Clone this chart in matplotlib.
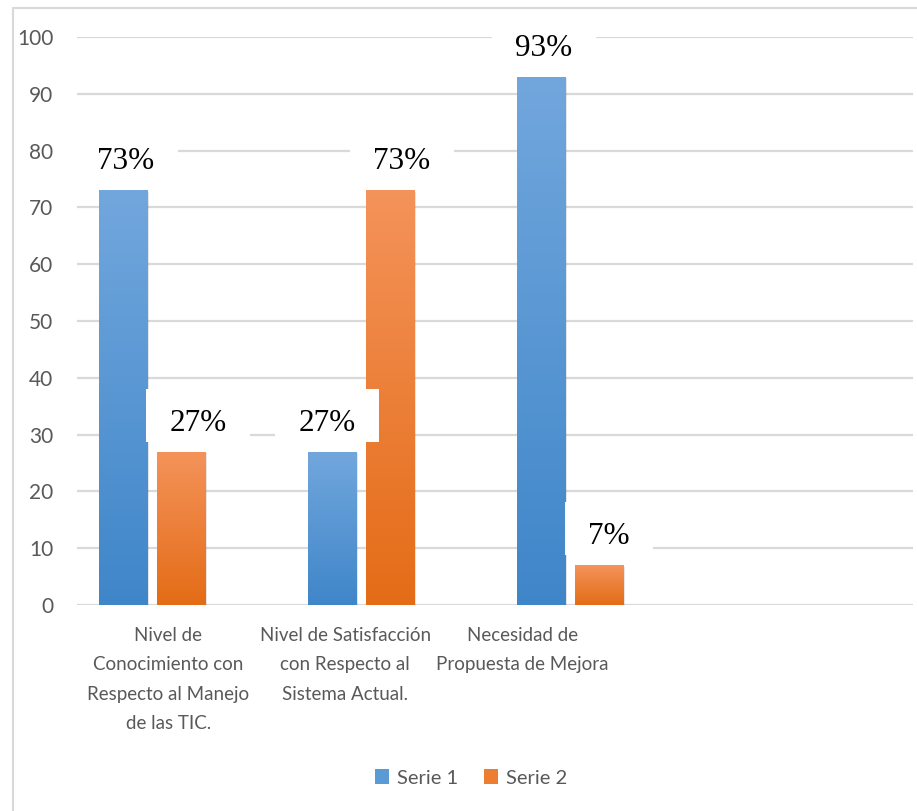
import matplotlib

matplotlib.use("Agg")  # no display in the sandbox
import matplotlib.pyplot as plt
import numpy as np
from matplotlib.colors import to_rgb
from matplotlib.patches import Patch, Rectangle
import matplotlib.patheffects as pe

# data
categories = [
    "Nivel de\nConocimiento con\nRespecto al Manejo\nde las TIC.",
    "Nivel de Satisfacción\ncon Respecto al\nSistema Actual.",
    "Necesidad de\nPropuesta de Mejora",
]
serie1 = [73, 27, 93]
serie2 = [27, 73, 7]
series_names = ["Serie 1", "Serie 2"]
y_ticks = [0, 10, 20, 30, 40, 50, 60, 70, 80, 90, 100]

# style
SANS = ["Lato", "DejaVu Sans"]
SERIF = ["Liberation Serif", "DejaVu Serif"]
TEXT_GRAY = "#595959"
GRID = "#d9d9d9"
BLUE = ("#72a7dd", "#3f86c9", "#5b9bd5")      # top, bottom, legend
ORANGE = ("#f4935a", "#e46c17", "#ed7d31")
BAR_W = 0.23
BAR_OFF = 0.139
# small horizontal nudges (pixels) of the percentage labels, as in the picture
nudge1 = [3, -5, 3]
nudge2 = [17, 12, 10]

plt.rcParams["font.family"] = SANS

W, H = 917, 811
fig = plt.figure(figsize=(W / 100, H / 100), dpi=100)
ax = fig.add_axes([77 / W, (H - 605) / H, 836 / W, 568 / H])

# outer chart border (only left and top edges fall inside the image)
fig.patches.append(Rectangle((13 / W, -0.1), 1.2, (H - 8) / H + 0.1,
                             transform=fig.transFigure, fill=False,
                             ec=GRID, lw=1.5))

x = np.arange(len(categories))


def gradient_bars(xpos, values, colors):
    bars = ax.bar(xpos, values, BAR_W, color=colors[2], zorder=2,
                  path_effects=[pe.SimplePatchShadow(offset=(1.5, -1), alpha=0.12),
                                pe.Normal()])
    top, bot = np.array(to_rgb(colors[0])), np.array(to_rgb(colors[1]))
    t = np.linspace(0, 1, 256)[:, None]
    grad = (top * (1 - t) + bot * t)[:, None, :]
    for b in bars:
        x0, w, h = b.get_x(), b.get_width(), b.get_height()
        im = ax.imshow(grad, extent=[x0, x0 + w, 0, h], origin="upper",
                       aspect="auto", zorder=2.1, interpolation="bilinear")
        im.set_clip_path(b)
    return bars


gradient_bars(x - BAR_OFF, serie1, BLUE)
gradient_bars(x + BAR_OFF, serie2, ORANGE)

ax.set_xlim(-0.359, 3.641)
ax.set_ylim(0, 100)
ax.set_yticks(y_ticks)
ax.set_xticks([])
ax.yaxis.grid(True, color=GRID, lw=1.6, zorder=0)
ax.set_axisbelow(True)
for s in ax.spines.values():
    s.set_visible(False)
ax.tick_params(axis="y", length=0, pad=17, labelsize=15, labelcolor=TEXT_GRAY)

# category labels (spaced a bit tighter than the bar groups, as in the picture)
label_x = x * 0.847 + 0.077
for lx, cat in zip(label_x, categories):
    ax.annotate(cat, xy=(lx, 0), xycoords=("data", "axes fraction"),
                xytext=(0, -22), textcoords="offset pixels", ha="center",
                va="top", fontsize=13.5, color=TEXT_GRAY, linespacing=1.88)

# percentage labels with white boxes
fig.canvas.draw()
renderer = fig.canvas.get_renderer()
inv = ax.transData.inverted()
for xpos, values, nudges in [(x - BAR_OFF, serie1, nudge1), (x + BAR_OFF, serie2, nudge2)]:
    for xp, v, n in zip(xpos, values, nudges):
        t = ax.annotate(f"{v}%", xy=(xp, v), xytext=(n, 21),
                        textcoords="offset pixels", ha="center", va="baseline",
                        fontsize=22.5, family=SERIF, color="black", zorder=5)
        ext = t.get_window_extent(renderer)
        base = ax.transData.transform((xp, v))[1] + 21
        (bx0, by0), (bx1, by1) = inv.transform([(ext.x0 - 23, base - 11),
                                                (ext.x1 + 23, base + 42)])
        ax.add_patch(Rectangle((bx0, by0), bx1 - bx0, by1 - by0, fc="white",
                               ec="none", zorder=4, clip_on=False))

handles = [Patch(fc=BLUE[2]), Patch(fc=ORANGE[2])]
fig.legend(handles, series_names, loc="center",
           bbox_to_anchor=(471 / W, 1 - 778 / H), ncol=2, frameon=False,
           handlelength=0.7, handleheight=0.7, handletextpad=0.4,
           columnspacing=1.3, fontsize=14.5, labelcolor=TEXT_GRAY)

fig.savefig("out.png", dpi=100)
plt.close(fig)
